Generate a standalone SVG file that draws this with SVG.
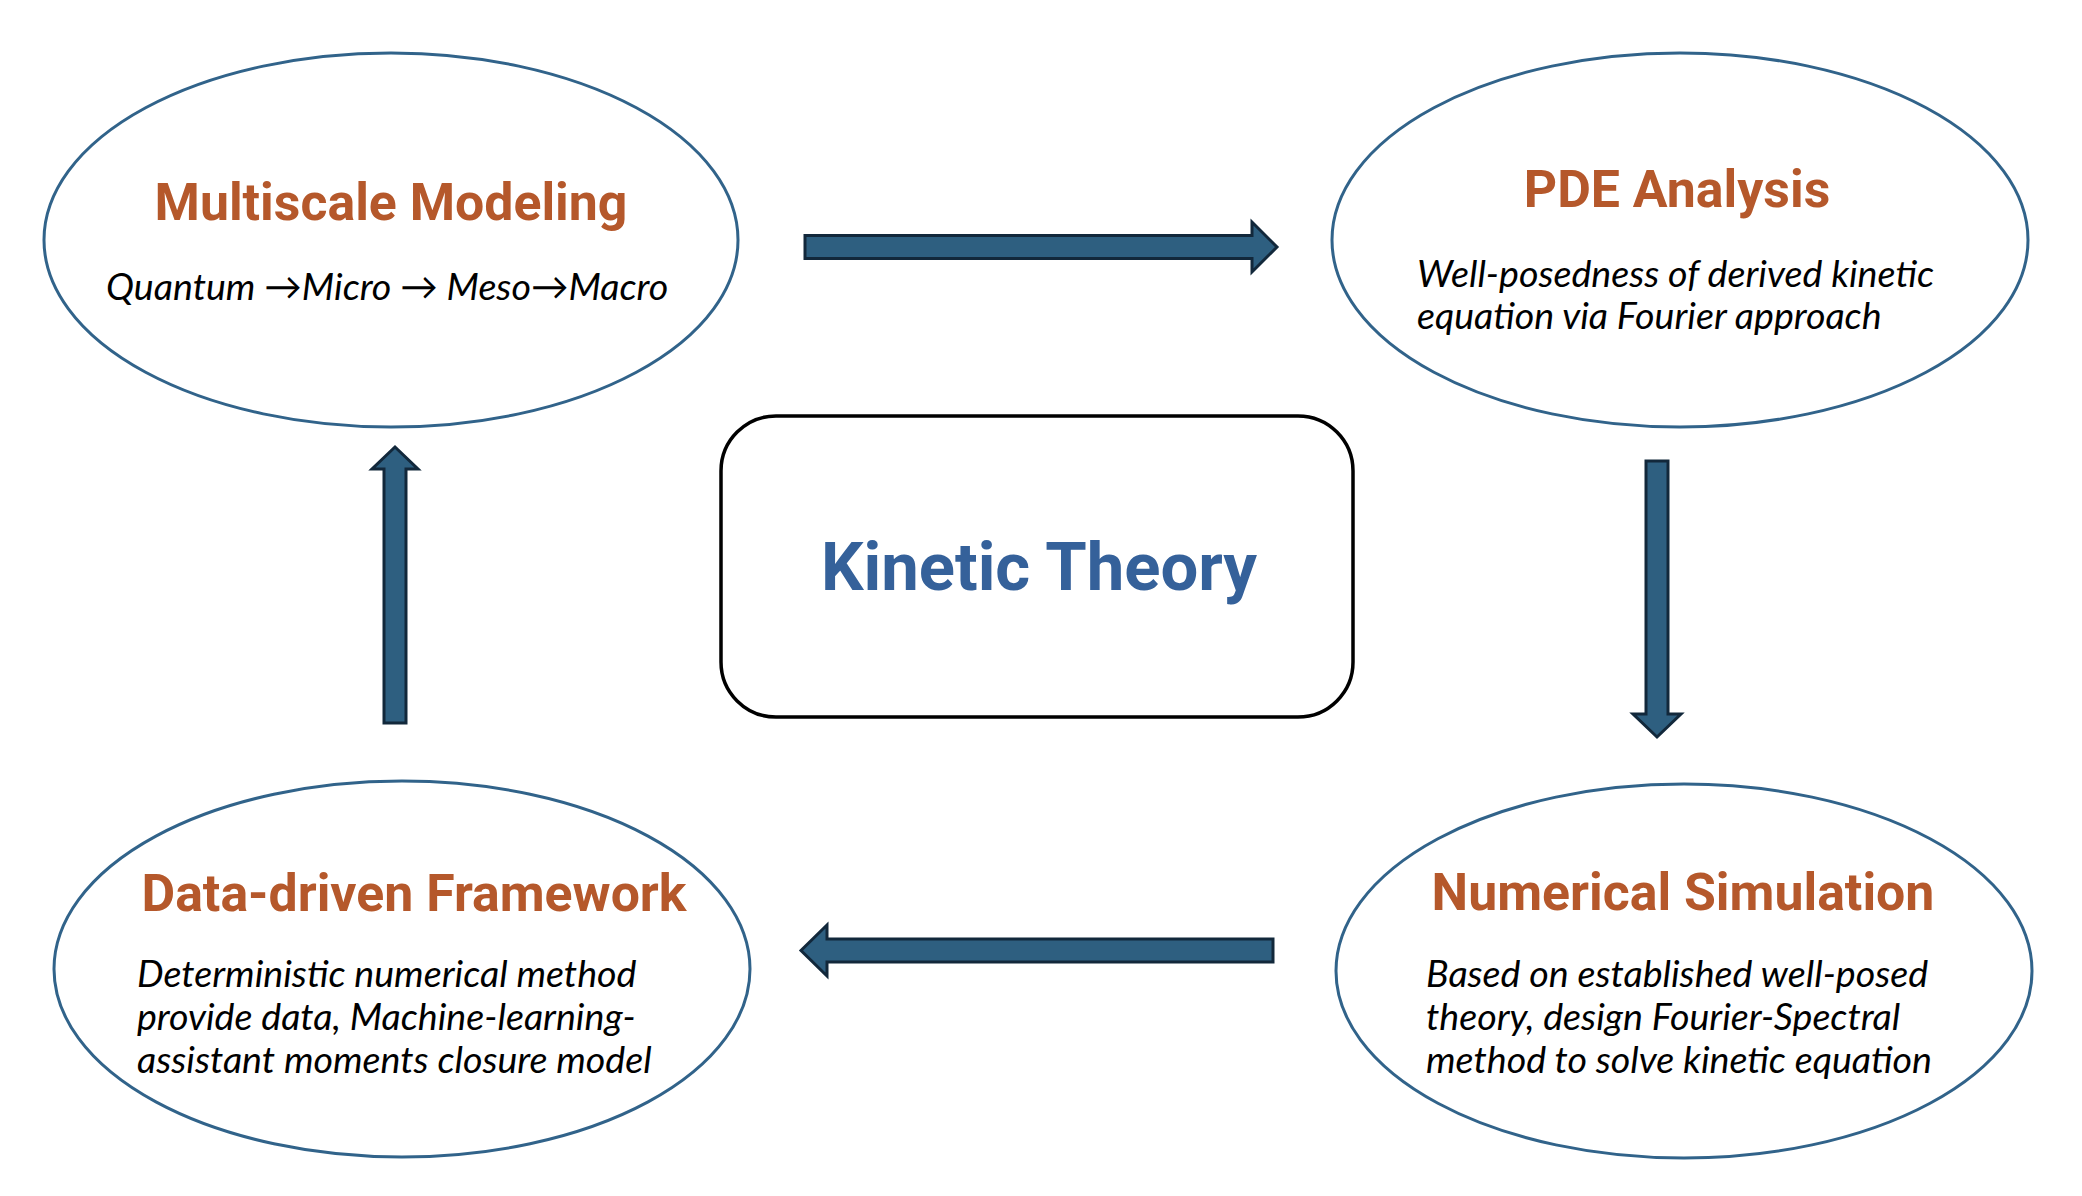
<svg xmlns="http://www.w3.org/2000/svg" width="2082" height="1196" viewBox="0 0 2082 1196">
<style>
.ell{fill:#fff;stroke:#31638A;stroke-width:3}
.title{font-family:Roboto,"Liberation Sans",sans-serif;font-weight:bold;font-size:51.8px;fill:#B5582B;text-anchor:middle}
.body{font-family:Lato,"Liberation Sans",sans-serif;font-style:italic;font-size:37.6px;fill:#000}
.arrow{fill:#2E5F80;stroke:#12283B;stroke-width:3;stroke-linejoin:miter}
.kt{font-family:Roboto,"Liberation Sans",sans-serif;font-weight:bold;font-size:67px;fill:#35619A;text-anchor:middle}
</style>
<rect width="2082" height="1196" fill="#fff"/>
<g id="connectors">
<path class="arrow" d="M805,235.5 H1252 V222 L1277,247 L1252,272 V258.5 H805 Z"/>
<path class="arrow" d="M1646,461 H1668 V714 H1681 L1657,737 L1633,714 H1646 Z"/>
<path class="arrow" d="M1273,939 H827 V925 L801,950.5 L827,976 V962 H1273 Z"/>
<path class="arrow" d="M384,723 V469 H372 L395,447 L418,469 H406 V723 Z"/>
</g>
<g id="multiscale">
<ellipse class="ell" cx="391" cy="240" rx="347" ry="187"/>
<text class="title" x="391" y="220">Multiscale Modeling</text>
<text class="body" x="106" y="300">Quantum →Micro → Meso→Macro</text>
</g>
<g id="pde">
<ellipse class="ell" cx="1680" cy="240" rx="348" ry="187"/>
<text class="title" x="1677" y="207">PDE Analysis</text>
<text class="body" x="1417" y="287">Well-posedness of derived kinetic</text>
<text class="body" x="1417" y="329">equation via Fourier approach</text>
</g>
<g id="datadriven">
<ellipse class="ell" cx="402" cy="969" rx="348" ry="188"/>
<text class="title" x="414" y="911">Data-driven Framework</text>
<text class="body" x="137" y="987">Deterministic numerical method</text>
<text class="body" x="137" y="1030">provide data, Machine-learning-</text>
<text class="body" x="137" y="1073">assistant moments closure model</text>
</g>
<g id="numerical">
<ellipse class="ell" cx="1684" cy="971" rx="348" ry="187"/>
<text class="title" x="1683" y="910">Numerical Simulation</text>
<text class="body" x="1426" y="987">Based on established well-posed</text>
<text class="body" x="1426" y="1030">theory, design Fourier-Spectral</text>
<text class="body" x="1426" y="1073">method to solve kinetic equation</text>
</g>
<g id="kinetic">
<rect x="721" y="416" width="632" height="301" rx="55" fill="#fff" stroke="#000" stroke-width="3.5"/>
<text class="kt" x="1039" y="590">Kinetic Theory</text>
</g>
</svg>
